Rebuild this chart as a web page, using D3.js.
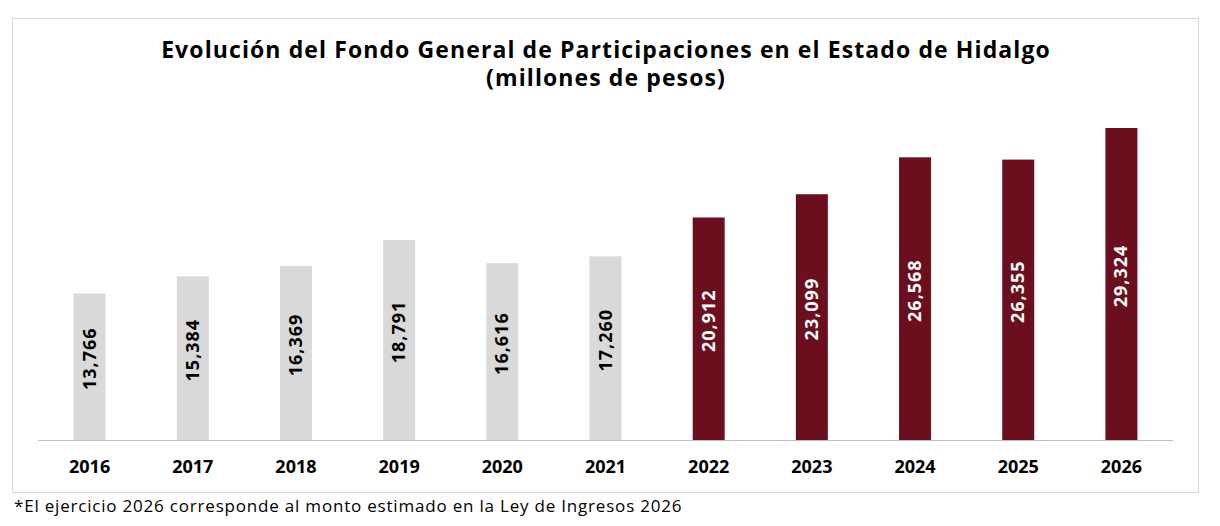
<!DOCTYPE html>
<html><head><meta charset="utf-8">
<script src="https://cdn.jsdelivr.net/npm/d3@7"></script>
<style>body{margin:0;background:#fff}text{font-family:'Open Sans',Lato,sans-serif}</style>
</head><body><svg id="c" width="1220" height="526"></svg>
<script>
const years = ['2016','2017','2018','2019','2020','2021','2022','2023','2024','2025','2026'];
const values = [13766, 15384, 16369, 18791, 16616, 17260, 20912, 23099, 26568, 26355, 29324];
const labels = ['13,766','15,384','16,369','18,791','16,616','17,260','20,912','23,099','26,568','26,355','29,324'];

const svg = d3.select('#c');
svg.append('rect').attr('x', 12.5).attr('y', 18.5).attr('width', 1186).attr('height', 474)
  .attr('fill', 'none').attr('stroke', '#d9d9d9');

const x = d3.scaleBand().domain(years).range([38, 1173]).paddingInner(0.69).paddingOuter(0.345);
const y = d3.scaleLinear().domain([0, 29324]).range([440, 128]);

svg.append('text').attr('x', 606).attr('y', 58).attr('text-anchor', 'middle')
  .attr('font-size', 23).attr('font-weight', 'bold').attr('letter-spacing', 1.1)
  .text('Evolución del Fondo General de Participaciones en el Estado de Hidalgo');
svg.append('text').attr('x', 606).attr('y', 86).attr('text-anchor', 'middle')
  .attr('font-size', 23).attr('font-weight', 'bold').attr('letter-spacing', 1.1).text('(millones de pesos)');

const col = i => i >= 6 ? '#6b0f1e' : '#d9d9d9';

svg.selectAll('rect.bar').data(values).enter().append('rect')
  .attr('class', 'bar')
  .attr('x', (d, i) => x(years[i])).attr('width', x.bandwidth())
  .attr('y', d => y(d)).attr('height', d => y(0) - y(d))
  .attr('fill', (d, i) => col(i));

svg.selectAll('text.val').data(values).enter().append('text')
  .attr('class', 'val')
  .attr('transform', (d, i) => `translate(${x(years[i]) + x.bandwidth() / 2 + 6},${(y(d) + y(0)) / 2 - 8}) rotate(-90)`)
  .attr('text-anchor', 'middle').attr('font-size', 18).attr('font-weight', 'bold').attr('letter-spacing', 1)
  .attr('fill', (d, i) => i >= 6 ? '#fff' : '#000')
  .text((d, i) => labels[i]);

svg.append('line').attr('x1', 38).attr('x2', 1173).attr('y1', 440.5).attr('y2', 440.5)
  .attr('stroke', '#bfbfbf');

svg.selectAll('text.yr').data(years).enter().append('text')
  .attr('class', 'yr')
  .attr('x', d => x(d) + x.bandwidth() / 2).attr('y', 473)
  .attr('text-anchor', 'middle').attr('font-size', 18).attr('font-weight', 'bold')
  .text(d => d);

svg.append('text').attr('x', 14).attr('y', 512).attr('font-size', 17).attr('letter-spacing', 0.8)
  .text('*El ejercicio 2026 corresponde al monto estimado en la Ley de Ingresos 2026');
</script></body></html>
